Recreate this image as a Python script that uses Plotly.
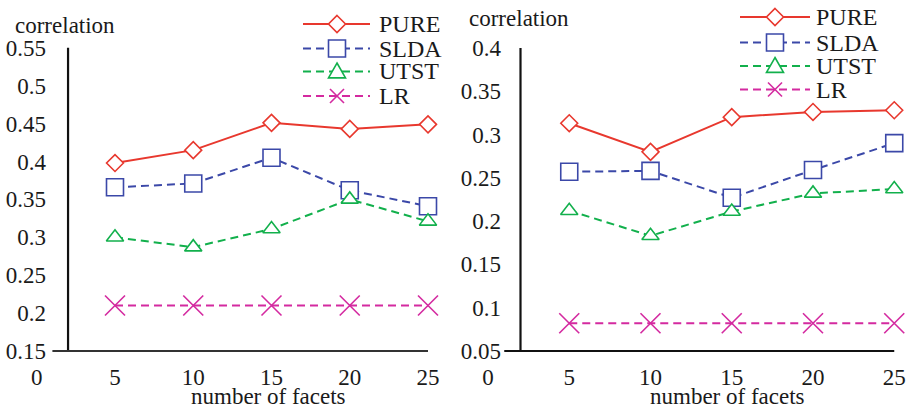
import plotly.graph_objects as go

# number of facets on the horizontal axis
facets = [5, 10, 15, 20, 25]
x_ticks = [0, 5, 10, 15, 20, 25]

# correlation per method, left panel
left_pure = [0.398, 0.415, 0.451, 0.443, 0.449]
left_slda = [0.366, 0.371, 0.405, 0.362, 0.341]
left_utst = [0.300, 0.287, 0.311, 0.350, 0.321]
left_lr = [0.210, 0.210, 0.210, 0.210, 0.210]
left_yticks = [0.15, 0.2, 0.25, 0.3, 0.35, 0.4, 0.45, 0.5, 0.55]
left_ylabels = ["0.15", "0.2", "0.25", "0.3", "0.35", "0.4", "0.45", "0.5", "0.55"]

# correlation per method, right panel
right_pure = [0.313, 0.280, 0.320, 0.326, 0.328]
right_slda = [0.257, 0.258, 0.227, 0.259, 0.290]
right_utst = [0.212, 0.183, 0.211, 0.232, 0.237]
right_lr = [0.082, 0.082, 0.082, 0.082, 0.082]
right_yticks = [0.05, 0.1, 0.15, 0.2, 0.25, 0.3, 0.35, 0.4]
right_ylabels = ["0.05", "0.1", "0.15", "0.2", "0.25", "0.3", "0.35", "0.4"]

methods = ["PURE", "SLDA", "UTST", "LR"]

W, H = 910, 407
FONT = "Liberation Serif, Times New Roman, DejaVu Serif, serif"
TXT = "#1a1a1a"

styles = {
    "PURE": dict(color="#e8382e", dash="solid", symbol="diamond", size=13),
    "SLDA": dict(color="#3b48a8", dash="8px,5px", symbol="square", size=17),
    "UTST": dict(color="#12b04c", dash="8px,5px", symbol="triangle-up", size=15),
    "LR": dict(color="#d42aa0", dash="8px,5px", symbol="x-thin", size=20),
}

fig = go.Figure()

panels = [
    ("x", "y", {"PURE": left_pure, "SLDA": left_slda, "UTST": left_utst, "LR": left_lr}),
    ("x2", "y2", {"PURE": right_pure, "SLDA": right_slda, "UTST": right_utst, "LR": right_lr}),
]
for xa, ya, series in panels:
    for name in methods:
        s = styles[name]
        fig.add_trace(go.Scatter(
            x=facets, y=series[name], name=name, xaxis=xa, yaxis=ya,
            mode="lines+markers", showlegend=False,
            line=dict(color=s["color"], width=2, dash=s["dash"]),
            marker=dict(symbol=s["symbol"], size=s["size"], color="white",
                        line=dict(color=s["color"], width=1.6)),
            cliponaxis=False,
        ))

# pixel -> data mappings chosen so each panel spans half the width
lx0, lx1 = -36.75 / 15.65, (455 - 36.75) / 15.65
rx0, rx1 = (455 - 488.0) / 16.25, (910 - 488.0) / 16.25
ly0, ly1 = 0.15 - (407 - 351) / 758.0, 0.15 + 351 / 758.0
ry0, ry1 = 0.05 - (407 - 351) / 866.0, 0.05 + 351 / 866.0

tickfont = dict(family=FONT, size=23, color=TXT)
axis_pos = 1 - 351 / H

fig.update_layout(
    width=W, height=H,
    margin=dict(l=0, r=0, t=0, b=0),
    paper_bgcolor="white", plot_bgcolor="white",
    font=dict(family=FONT, size=23, color=TXT),
    showlegend=False,
    xaxis=dict(domain=[0, 0.5], range=[lx0, lx1], anchor="free", position=axis_pos,
               tickvals=x_ticks, ticks="outside", ticklen=5, tickcolor="rgba(0,0,0,0)",
               showgrid=False, zeroline=False, showline=False, tickfont=tickfont),
    yaxis=dict(domain=[0, 1], range=[ly0, ly1], anchor="free", position=46 / W,
               tickvals=left_yticks, ticktext=left_ylabels, ticks="",
               showgrid=False, zeroline=False, showline=False, tickfont=tickfont),
    xaxis2=dict(domain=[0.5, 1], range=[rx0, rx1], anchor="free", position=axis_pos,
                tickvals=x_ticks, ticks="outside", ticklen=5, tickcolor="rgba(0,0,0,0)",
                showgrid=False, zeroline=False, showline=False, tickfont=tickfont),
    yaxis2=dict(domain=[0, 1], range=[ry0, ry1], anchor="free", position=501 / W,
                tickvals=right_yticks, ticktext=right_ylabels, ticks="",
                showgrid=False, zeroline=False, showline=False, tickfont=tickfont),
)

# axis lines: vertical at x=2, horizontal along the lowest tick
fig.add_shape(type="line", xref="x", yref="y", x0=2, x1=2, y0=0.15, y1=0.55,
              line=dict(color="#111111", width=2.2))
fig.add_shape(type="line", xref="x", yref="y", x0=1, x1=25, y0=0.15, y1=0.15,
              line=dict(color="#333333", width=1.8))
fig.add_shape(type="line", xref="x2", yref="y2", x0=2, x1=2, y0=0.05, y1=0.4,
              line=dict(color="#111111", width=2.2))
fig.add_shape(type="line", xref="x2", yref="y2", x0=1, x1=25, y0=0.05, y1=0.05,
              line=dict(color="#111111", width=2.2))

# axis titles
for xc, yc, txt in [(65, 26, "correlation"), (519, 18, "correlation"),
                    (268, 396, "number of facets"), (727, 396, "number of facets")]:
    fig.add_annotation(x=xc / W, y=1 - yc / H, xref="paper", yref="paper",
                       text=txt, showarrow=False, xanchor="center", yanchor="middle",
                       font=dict(family=FONT, size=23, color=TXT))


# legend keys drawn in pixel space (converted to paper coordinates)
def px(x):
    return x / W


def py(y):
    return 1 - y / H


def key_marker(sym, cx, cy, color):
    r = 8.5
    if sym == "x-thin":
        k = 7
        for (a, b), (c, d) in [((-k, -k), (k, k)), ((-k, k), (k, -k))]:
            fig.add_shape(type="line", xref="paper", yref="paper",
                          x0=px(cx + a), y0=py(cy + b), x1=px(cx + c), y1=py(cy + d),
                          line=dict(color=color, width=1.6))
        return
    if sym == "diamond":
        pts = [(cx, cy - r), (cx + r, cy), (cx, cy + r), (cx - r, cy)]
    elif sym == "square":
        pts = [(cx - r, cy - r), (cx + r, cy - r), (cx + r, cy + r), (cx - r, cy + r)]
    else:
        pts = [(cx, cy - r), (cx + r, cy + r * 0.75), (cx - r, cy + r * 0.75)]
    path = "M " + " L ".join(f"{px(a):.5f},{py(b):.5f}" for a, b in pts) + " Z"
    fig.add_shape(type="path", xref="paper", yref="paper", path=path,
                  fillcolor="white", line=dict(color=color, width=1.6))


legend_boxes = [
    dict(x0=303, x1=370, mx=337, tx=377, rows=[24, 48.5, 71.5, 96]),
    dict(x0=740, x1=810, mx=775, tx=814, rows=[17, 42.5, 66, 89.5]),
]
for box in legend_boxes:
    for name, ry in zip(methods, box["rows"]):
        s = styles[name]
        fig.add_shape(type="line", xref="paper", yref="paper",
                      x0=px(box["x0"]), x1=px(box["x1"]), y0=py(ry), y1=py(ry),
                      line=dict(color=s["color"], width=2, dash=s["dash"]))
        key_marker(s["symbol"], box["mx"], ry, s["color"])
        fig.add_annotation(x=px(box["tx"]), y=py(ry), xref="paper", yref="paper",
                           text=name, showarrow=False, xanchor="left", yanchor="middle",
                           font=dict(family=FONT, size=24, color=TXT))

fig.write_html("out.html")
